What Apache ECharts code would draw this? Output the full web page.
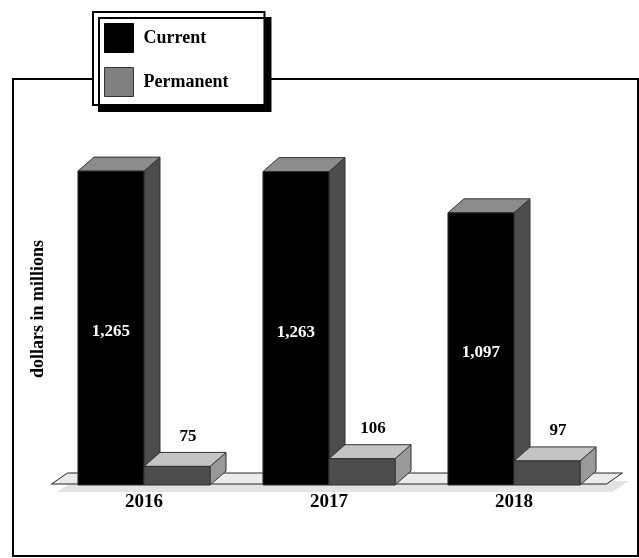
<!DOCTYPE html>
<html>
<head>
<meta charset="utf-8">
<script src="https://cdn.jsdelivr.net/npm/echarts@6/dist/echarts.min.js"></script>
<style>
html,body{margin:0;padding:0;background:#fff;}
#chart{width:639px;height:558px;}
</style>
</head>
<body>
<div id="chart"></div>
<script>
var years = ['2016', '2017', '2018'];
var currentValues = [1265, 1263, 1097];
var permanentValues = [75, 106, 97];
var seriesNames = ['Current', 'Permanent'];
var yAxisTitle = 'dollars in millions';

var FONT = '"Liberation Serif", "DejaVu Serif", serif';
var DX = 16, DY = 14;

function fmt(v) { return Number(v).toLocaleString('en-US'); }

function makeBar(kind) {
  var front = kind === 0 ? '#000000' : '#4d4d4d';
  var topC = kind === 0 ? '#8c8c8c' : '#c4c4c4';
  var side = kind === 0 ? '#4d4d4d' : '#999999';
  return function (params, api) {
    var idx = api.value(0), val = api.value(1);
    var base = api.coord([idx, 0]);
    var top = api.coord([idx, val]);
    var band = api.size([1, 0])[0];
    var w = band * 0.357;
    var x0 = kind === 0 ? base[0] - w : base[0];
    var x1 = x0 + w;
    var yb = base[1], yt = top[1];
    var st = {stroke: '#333', lineWidth: 1, lineJoin: 'round'};
    var children = [
      {type: 'polygon', shape: {points: [[x1, yt], [x1 + DX, yt - DY], [x1 + DX, yb - DY], [x1, yb]]},
        style: Object.assign({fill: side}, st)},
      {type: 'polygon', shape: {points: [[x0, yt], [x0 + DX, yt - DY], [x1 + DX, yt - DY], [x1, yt]]},
        style: Object.assign({fill: topC}, st)},
      {type: 'rect', shape: {x: x0, y: yt, width: w, height: yb - yt},
        style: Object.assign({fill: front}, st)}
    ];
    if (kind === 0) {
      children.push({type: 'text', x: (x0 + x1) / 2, y: (yt + yb) / 2 + 4,
        style: {text: fmt(val), fill: '#fff', font: 'bold 17px ' + FONT, align: 'center', verticalAlign: 'middle'}});
    } else {
      children.push({type: 'text', x: (x0 + x1) / 2 + 11, y: yt - 30,
        style: {text: fmt(val), fill: '#000', font: 'bold 17px ' + FONT, align: 'center', verticalAlign: 'middle'}});
    }
    return {type: 'group', children: children};
  };
}

function renderFloor(params, api) {
  var cs = params.coordSys;
  var y0 = cs.y + cs.height - 1;
  var xa = cs.x, xb = cs.x + cs.width;
  var fdx = 16, fdy = 11;
  var pts = [[xa, y0], [xb, y0], [xb + fdx, y0 - fdy], [xa + fdx, y0 - fdy]];
  var sh = pts.map(function (p) { return [p[0] + 6, p[1] + 8]; });
  return {type: 'group', children: [
    {type: 'polygon', shape: {points: sh}, style: {fill: '#e3e3e3'}},
    {type: 'polygon', shape: {points: pts}, style: {fill: '#ebebeb', stroke: '#222', lineWidth: 1}}
  ]};
}

var chart = echarts.init(document.getElementById('chart'));
chart.setOption({
  backgroundColor: '#fff',
  animation: false,
  grid: {left: 51.5, right: 32.5, top: 88, bottom: 73},
  xAxis: {
    type: 'category', data: years,
    axisLine: {show: false}, axisTick: {show: false}, splitLine: {show: false},
    axisLabel: {color: '#000', fontFamily: FONT, fontWeight: 'bold', fontSize: 19, margin: 8}
  },
  yAxis: {
    type: 'value', min: 0, max: 1600,
    axisLine: {show: false}, axisTick: {show: false}, axisLabel: {show: false}, splitLine: {show: false}
  },
  legend: {
    left: 93, top: 12, orient: 'vertical',
    padding: [11, 36, 8, 11],
    itemWidth: 29, itemHeight: 29, itemGap: 14,
    icon: 'rect',
    backgroundColor: '#fff', borderColor: '#000', borderWidth: 2,
    shadowColor: '#000', shadowOffsetX: 6, shadowOffsetY: 6, shadowBlur: 0,
    textStyle: {color: '#000', fontFamily: FONT, fontWeight: 'bold', fontSize: 18, padding: [0, 0, 0, 5]},
    data: [
      {name: seriesNames[0], itemStyle: {color: '#000', borderColor: '#000', borderWidth: 1}},
      {name: seriesNames[1], itemStyle: {color: '#808080', borderColor: '#333', borderWidth: 1}}
    ]
  },
  graphic: [
    {type: 'rect', z: -1, shape: {x: 13, y: 79, width: 625, height: 477},
      style: {fill: 'none', stroke: '#000', lineWidth: 2}},
    {type: 'text', x: 38.5, y: 309, rotation: Math.PI / 2,
      style: {text: yAxisTitle, fill: '#000', font: 'bold 18px ' + FONT, align: 'center', verticalAlign: 'middle'}}
  ],
  series: [
    {type: 'custom', name: 'floor', renderItem: renderFloor, data: [[0, 0]], silent: true, z: 1},
    {type: 'custom', name: seriesNames[0], renderItem: makeBar(0), itemStyle: {color: '#000'},
      encode: {x: 0, y: 1}, z: 2,
      data: currentValues.map(function (v, i) { return [i, v]; })},
    {type: 'custom', name: seriesNames[1], renderItem: makeBar(1), itemStyle: {color: '#808080'},
      encode: {x: 0, y: 1}, z: 3,
      data: permanentValues.map(function (v, i) { return [i, v]; })}
  ]
});
</script>
</body>
</html>
